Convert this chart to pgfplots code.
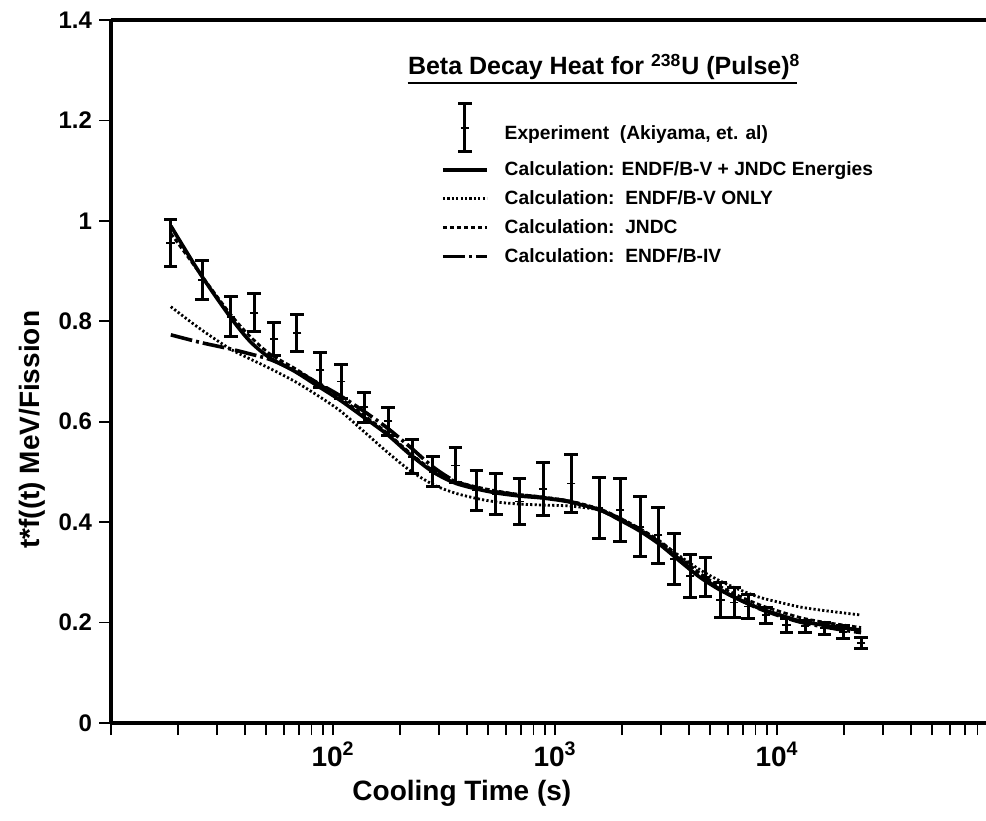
\documentclass[border=0pt]{standalone}
\usepackage{fontspec}
\setmainfont{Liberation Sans}
\usepackage{pgfplots}
\usepackage{pgfplotstable}
\pgfplotsset{compat=1.18}

% short line sample used in the legend
\pgfplotsset{
  shortline/.style={legend image code/.code={\draw[##1] (0pt,0pt) -- (22pt,0pt);}},
  errsample/.style={legend image code/.code={
      \draw[line width=1.5pt] (11pt,-9pt) -- (11pt,15pt);
      \draw[line width=1.5pt] (7.7pt,-9pt) -- (14.3pt,-9pt);
      \draw[line width=1.5pt] (7.7pt,15pt) -- (14.3pt,15pt);
      \draw[line width=0.9pt] (9pt,3pt) -- (13pt,3pt);}},
}

% Experimental points: cooling time (s), value, half-width of error bar
\pgfplotstableread{
t      y      e
18.6   0.956  0.047
25.7   0.883  0.039
34.7   0.809  0.040
44.1   0.817  0.038
54.2   0.764  0.033
68.8   0.776  0.037
87.4   0.703  0.034
108.7  0.680  0.033
138    0.629  0.030
177    0.601  0.028
227    0.530  0.034
282    0.500  0.030
355    0.513  0.035
441    0.463  0.039
542    0.456  0.040
689    0.441  0.045
883    0.466  0.052
1180   0.477  0.057
1578   0.428  0.060
1963   0.424  0.062
2415   0.391  0.060
2911   0.374  0.056
3436   0.326  0.051
4055   0.292  0.043
4742   0.290  0.039
5539   0.245  0.034
6400   0.240  0.029
7400   0.232  0.023
8913   0.215  0.016
10990  0.195  0.014
13370  0.193  0.012
16290  0.189  0.012
19820  0.182  0.013
23900  0.160  0.011
}\expdata

% Calculations: s = ENDF/B-V + JNDC energies, d = ENDF/B-V only,
% j = JNDC, b = ENDF/B-IV
\pgfplotstableread{
t      s      d      j      b
18.6   0.990  0.829  0.975  0.773
25.2   0.895  0.785  0.895  0.758
34.4   0.809  0.745  0.815  0.745
42.3   0.760  0.725  0.770  0.735
52.0   0.727  0.706  0.735  0.724
67.4   0.700  0.680  0.706  0.702
84.7   0.672  0.653  0.678  0.678
107.5  0.643  0.622  0.648  0.652
136.5  0.610  0.582  0.614  0.622
175    0.575  0.540  0.578  0.588
222    0.535  0.503  0.538  0.550
282    0.500  0.475  0.503  0.510
354    0.478  0.458  0.482  0.482
445    0.466  0.447  0.470  0.468
548    0.458  0.440  0.462  0.460
696    0.452  0.436  0.455  0.454
883    0.448  0.434  0.450  0.449
1168   0.440  0.432  0.442  0.441
1595   0.424  0.424  0.426  0.424
1963   0.404  0.408  0.408  0.405
2415   0.382  0.385  0.387  0.384
2972   0.355  0.360  0.362  0.357
3657   0.322  0.332  0.330  0.325
4501   0.290  0.305  0.298  0.293
5536   0.265  0.283  0.272  0.266
6813   0.245  0.265  0.252  0.245
8381   0.228  0.250  0.235  0.227
10315  0.215  0.240  0.222  0.213
12690  0.203  0.231  0.210  0.201
15620  0.196  0.225  0.202  0.193
19220  0.190  0.220  0.196  0.186
23900  0.185  0.215  0.190  0.180
}\calc

\begin{document}
\begin{tikzpicture}
\begin{axis}[
  name=ax,
  scale only axis,
  width=437.5pt, height=351.5pt,
  xmode=log, xmin=10, xmax=87300,
  ymin=0, ymax=1.4,
  axis x line*=box, axis y line*=left,
  every outer x axis line/.append style={-},
  every outer y axis line/.append style={-},
  every inner x axis line/.append style={-},
  every inner y axis line/.append style={-},
  axis line style={line width=1.8pt, -},
  xtick={10,100,1000,10000},
  xticklabels={,10\textsuperscript{2},10\textsuperscript{3},10\textsuperscript{4}},
  minor xtick={20,30,40,50,60,70,80,90,200,300,400,500,600,700,800,900,
               2000,3000,4000,5000,6000,7000,8000,9000,
               20000,30000,40000,50000,60000,70000,80000},
  xtick pos=left,
  ytick={0,0.2,0.4,0.6,0.8,1,1.2,1.4},
  yticklabels={0,0.2,0.4,0.6,0.8,1,1.2,1.4},
  tick align=outside,
  major tick length=6pt, minor tick length=6pt,
  every tick/.style={line width=0.9pt, black},
  x tick label style={font=\fontsize{14}{14}\selectfont\bfseries},
  y tick label style={font=\fontsize{12}{12}\selectfont\bfseries},
  xlabel={Cooling Time (s)},
  ylabel={t*f((t) MeV/Fission},
  label style={font=\fontsize{14}{14}\selectfont\bfseries},
  xlabel style={at={(ticklabel cs:0.401)}, anchor=near ticklabel},
  ylabel style={at={(ticklabel cs:0.417)}, anchor=near ticklabel},
  legend cell align=left,
  legend style={draw=none, fill=none,
    at={(rel axis cs:0.37,0.889)}, anchor=north west,
    font=\fontsize{9.6}{11}\selectfont\bfseries,
    row sep=2pt,
    /tikz/every odd column/.append style={column sep=6pt}},
]

\addplot[black, only marks, mark=-, mark size=2.2pt,
  mark options={line width=0.9pt}, errsample,
  error bars/.cd, y dir=both, y explicit,
  error bar style={line width=1.5pt},
  error mark options={rotate=90, mark size=3.3pt, line width=1.5pt},
  ]
  table[x=t, y=y, y error=e] {\expdata};
\addlegendentry{Experiment\ \ (Akiyama, et. al)}

\addplot[black, line width=1.8pt, smooth, shortline]
  table[x=t, y=s] {\calc};
\addlegendentry{Calculation: ENDF/B-V + JNDC Energies}

\addplot[black, line width=1.4pt, smooth, dash pattern=on 1.1pt off 1.1pt, shortline]
  table[x=t, y=d] {\calc};
\addlegendentry{Calculation:\ \ ENDF/B-V ONLY}

\addplot[black, line width=1.4pt, smooth, dash pattern=on 2.2pt off 1.3pt, shortline]
  table[x=t, y=j] {\calc};
\addlegendentry{Calculation:\ \ JNDC}

\addplot[black, line width=1.8pt, smooth,
  dash pattern=on 11pt off 2pt on 1.5pt off 2pt, shortline]
  table[x=t, y=b] {\calc};
\addlegendentry{Calculation:\ \ ENDF/B-IV}

\node[anchor=base west, font=\fontsize{12.5}{13}\selectfont\bfseries, inner sep=0pt]
  at (rel axis cs:0.339,0.922)
  {Beta Decay Heat for \textsuperscript{238}U (Pulse)\textsuperscript{8}};
\draw[line width=1pt] (rel axis cs:0.339,0.910) -- (rel axis cs:0.784,0.910);
\end{axis}
\pgfresetboundingbox
\path ([xshift=-55.5pt,yshift=-48.5pt]ax.south west) rectangle ([yshift=10pt]ax.north east);
\end{tikzpicture}
\end{document}
